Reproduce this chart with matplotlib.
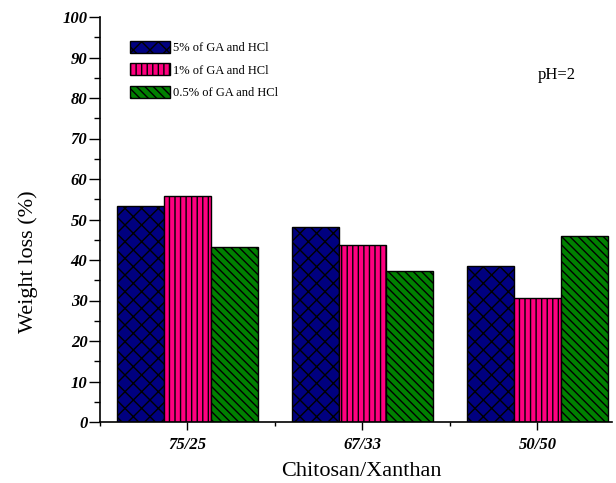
import matplotlib
matplotlib.use("Agg")
import matplotlib.pyplot as plt
import numpy as np

categories = ["75/25", "67/33", "50/50"]
series_labels = ["5% of GA and HCl", "1% of GA and HCl", "0.5% of GA and HCl"]
ga5 = [53.4, 48.2, 38.5]
ga1 = [55.7, 43.6, 30.6]
ga05 = [43.3, 37.4, 45.9]
colors = ["#000080", "#FF0080", "#008000"]
hatches = ["xx", "|||", "\\\\\\\\"]

plt.rcParams["font.family"] = ["Liberation Serif", "DejaVu Serif"]
plt.rcParams["hatch.linewidth"] = 1.0
plt.rcParams["hatch.color"] = "black"

fig = plt.figure(figsize=(6.16, 4.83), dpi=100)
ax = fig.add_axes([100/616, 1-422/483, 512/616, 405/483])

x = np.arange(len(categories))
w = 0.2686
for i, (vals, lab) in enumerate(zip([ga5, ga1, ga05], series_labels)):
    ax.bar(x + (i - 1) * w, vals, width=w, color=colors[i], edgecolor="black",
           linewidth=1.0, hatch=hatches[i], label=lab)

ax.set_xlim(-0.5, 2.426)
ax.set_ylim(0, 100)
ax.spines["top"].set_visible(False)
ax.spines["right"].set_visible(False)
for s in ["left", "bottom"]:
    ax.spines[s].set_linewidth(1.2)

ax.set_xticks(x)
ax.set_xticklabels(categories, fontsize=12, fontweight="bold", fontstyle="italic")
ax.set_xticks([-0.5, 0.5, 1.5], minor=True)
ax.set_yticks(np.arange(0, 101, 10))
ax.set_yticklabels([str(v) for v in range(0, 101, 10)], fontsize=12,
                   fontweight="bold", fontstyle="italic")
ax.set_yticks(np.arange(5, 100, 10), minor=True)
ax.tick_params(axis="y", which="major", direction="out", length=8, width=1.0, pad=1)
ax.tick_params(axis="y", which="minor", direction="out", length=4, width=1.0)
ax.tick_params(axis="x", which="major", direction="out", length=6, width=1.0, pad=5)
ax.tick_params(axis="x", which="minor", direction="out", length=3, width=1.0)

ax.set_ylabel("Weight loss (%)", fontsize=16, va="center")
ax.yaxis.set_label_coords(-0.1406, 0.395)
ax.set_xlabel("Chitosan/Xanthan", fontsize=16, va="center")
ax.xaxis.set_label_coords(0.511, -0.122)

ax.legend(loc="upper left", bbox_to_anchor=(0.049, 0.954), frameon=False,
          fontsize=9, handlelength=3.2, handleheight=1.1, labelspacing=0.75,
          handletextpad=0.2, borderaxespad=0)

ax.text(0.893, 0.857, "pH=2", transform=ax.transAxes, fontsize=12,
        ha="center", va="center")

fig.savefig("out.png", dpi=100)
